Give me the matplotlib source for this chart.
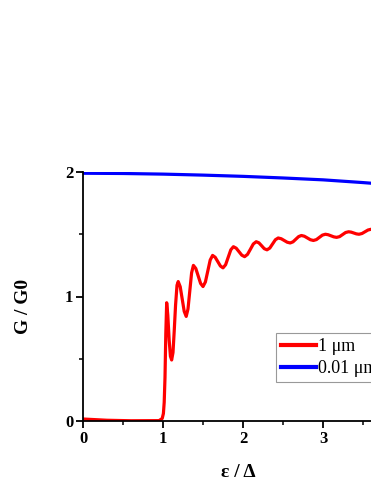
import matplotlib
matplotlib.use("Agg")
import matplotlib.pyplot as plt
from matplotlib.ticker import MultipleLocator

# ---- data ----
x_red = [0.0, 0.3, 0.6, 0.95, 0.99, 1.005, 1.015, 1.025, 1.035, 1.046,
         1.06, 1.077, 1.093, 1.108, 1.125, 1.14, 1.157, 1.175, 1.19,
         1.215, 1.24, 1.265, 1.29,
         1.3125, 1.335, 1.3575, 1.38,
         1.41, 1.44, 1.47, 1.50,
         1.53, 1.56, 1.59, 1.62,
         1.6525, 1.685, 1.7175, 1.75,
         1.7825, 1.815, 1.8475, 1.88,
         1.915, 1.95, 1.985, 2.02,
         2.056, 2.093, 2.129, 2.165,
         2.199, 2.233, 2.266, 2.30,
         2.335, 2.37, 2.405, 2.44,
         2.4775, 2.515, 2.5525, 2.59,
         2.625, 2.66, 2.695, 2.73,
         2.7675, 2.805, 2.8425, 2.88,
         2.9175, 2.955, 2.9925, 3.03,
         3.065, 3.10, 3.135, 3.17,
         3.2075, 3.245, 3.2825, 3.32,
         3.3525, 3.385, 3.4175, 3.45,
         3.4875, 3.525, 3.5625, 3.60, 3.65, 3.75]
y_red = [0.016, 0.006, 0.002, 0.003, 0.02, 0.06, 0.15, 0.35, 0.70, 0.95,
         0.85, 0.65, 0.52, 0.49, 0.55, 0.72, 0.93, 1.09, 1.12,
         1.079, 0.98, 0.881, 0.84,
         0.90, 1.045, 1.19, 1.25,
         1.225, 1.165, 1.105, 1.08,
         1.117, 1.205, 1.293, 1.33,
         1.315, 1.28, 1.245, 1.23,
         1.255, 1.315, 1.375, 1.40,
         1.388, 1.36, 1.332, 1.32,
         1.338, 1.38, 1.422, 1.44,
         1.431, 1.4075, 1.384, 1.375,
         1.389, 1.4225, 1.456, 1.47,
         1.464, 1.45, 1.436, 1.43,
         1.439, 1.46, 1.481, 1.49,
         1.484, 1.47, 1.456, 1.45,
         1.457, 1.475, 1.493, 1.50,
         1.496, 1.4875, 1.479, 1.475,
         1.481, 1.4975, 1.514, 1.52,
         1.517, 1.51, 1.503, 1.50,
         1.506, 1.52, 1.534, 1.54, 1.535, 1.52]

x_blue = [0.0, 0.5, 1.0, 1.5, 2.0, 2.5, 3.0, 3.5, 3.6, 4.0, 4.5, 5.0]
y_blue = [1.99, 1.988, 1.983, 1.975, 1.965, 1.952, 1.937, 1.915, 1.91, 1.89, 1.86, 1.83]

labels = ["1 \u03bcm", "0.01 \u03bcm"]

# ---- figure ----
plt.rcParams['font.family'] = ['Liberation Serif', 'DejaVu Serif']

fig = plt.figure(figsize=(3.71, 4.80), dpi=100)
ax = fig.add_axes([83/371, 1 - 421/480, 400/371, (421 - 172)/480])

ax.plot(x_red, y_red, color='#ff0000', lw=2.3, label=labels[0])
ax.plot(x_blue, y_blue, color='#0000ff', lw=2.3, label=labels[1])

ax.set_xlim(0, 5)
ax.set_ylim(0, 2)
ax.xaxis.set_major_locator(MultipleLocator(1))
ax.xaxis.set_minor_locator(MultipleLocator(0.5))
ax.yaxis.set_major_locator(MultipleLocator(1))
ax.yaxis.set_minor_locator(MultipleLocator(0.5))

for s in ['top', 'right']:
    ax.spines[s].set_visible(False)
for s in ['left', 'bottom']:
    ax.spines[s].set_linewidth(1.3)

ax.tick_params(which='major', direction='out', length=5, width=1.3, labelsize=12, pad=2)
ax.tick_params(which='minor', direction='out', length=3, width=1.1)
for lab in ax.get_xticklabels() + ax.get_yticklabels():
    lab.set_fontweight('bold')

ax.set_xlabel("\u03b5 / \u0394", fontsize=14, fontweight='bold')
ax.set_ylabel("G / G0", fontsize=14, fontweight='bold')
ax.xaxis.set_label_coords((238.5 - 83) / 400, -(464 - 421) / 249, transform=ax.transAxes)
ax.yaxis.set_label_coords(-(83 - 32) / 400, (421 - 306) / 249, transform=ax.transAxes)

leg = ax.legend(loc='upper left', bbox_to_anchor=(276/371, 1 - 333/480),
                bbox_transform=fig.transFigure, fontsize=13, frameon=True,
                fancybox=False, edgecolor='#808080', borderpad=0.3,
                handlelength=1.9, handletextpad=0.1, labelspacing=0.25,
                borderaxespad=0)
leg.get_frame().set_linewidth(0.8)
for h in leg.get_lines():
    h.set_linewidth(3)

fig.savefig("out.png", dpi=100)
